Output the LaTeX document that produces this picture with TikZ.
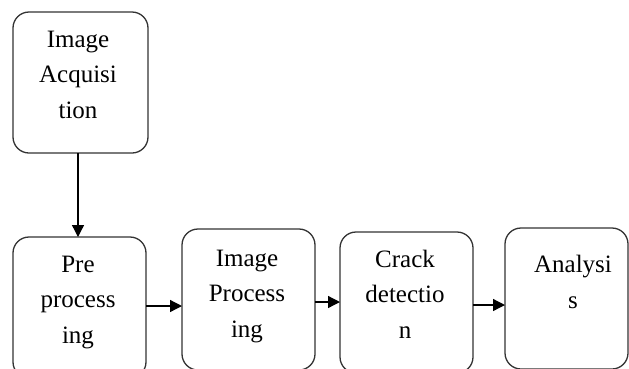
\documentclass[tikz,border=0pt]{standalone}
\usepackage{fontspec}
\setmainfont{Liberation Serif}
\usetikzlibrary{arrows.meta}
\begin{document}
\begin{tikzpicture}[x=1pt,y=-1pt,
  box/.style={draw=black!80, line width=1.3pt, rounded corners=16pt, inner sep=0pt, outer sep=0pt, minimum height=141pt},
  txt/.style={align=center, inner sep=0pt, anchor=base, font=\fontsize{25}{35.5}\selectfont, text=black},
  arr/.style={draw=black, line width=1.3pt, -{Triangle[length=12pt,width=12pt]}}]
\useasboundingbox (0,0) rectangle (629,368);
\clip (0,0) rectangle (629,368);
\node[box, minimum width=135pt] (b1) at (80.5,82.5) {};
\node[box, minimum width=133pt] (b2) at (79.5,307.5) {};
\node[box, minimum width=133pt] (b3) at (248.5,299.5) {};
\node[box, minimum width=133pt] (b4) at (406.5,302.5) {};
\node[box, minimum width=123pt] (b5) at (566.5,298.5) {};
\node[txt] (t1) at (78,118) {Image\\Acquisi\\tion};
\node[txt] (t2) at (78,343) {Pre\\process\\ing};
\node[txt] (t3) at (247,337) {Image\\Process\\ing};
\node[txt] (t4) at (405,338) {Crack\\detectio\\n};
\node[txt] (t5) at (573,308) {Analysi\\s};
\draw[arr] (b1.south -| 78,0) -- (b2.north -| 78,0);
\draw[arr] (b2.east |- 0,306) -- (b3.west |- 0,306);
\draw[arr] (b3.east |- 0,302) -- (b4.west |- 0,302);
\draw[arr] (b4.east |- 0,305) -- (b5.west |- 0,305);
\end{tikzpicture}
\end{document}
